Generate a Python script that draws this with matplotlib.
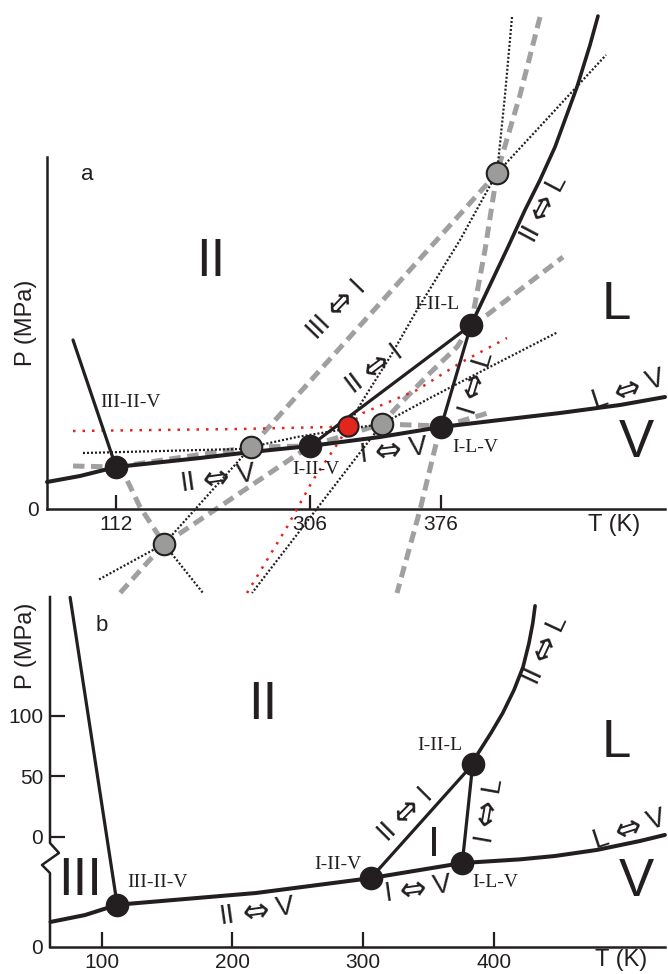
import math
import matplotlib
matplotlib.use("Agg")
import matplotlib.pyplot as plt
from matplotlib import font_manager, transforms

names = {f.name for f in font_manager.fontManager.ttflist}
narrow = 'Liberation Sans Narrow' if 'Liberation Sans Narrow' in names else 'Liberation Sans'
SANS = ['Liberation Sans', 'DejaVu Sans']
NARROW = [narrow, 'DejaVu Sans']
SERIF = ['Liberation Serif', 'DejaVu Serif']

INK = '#231f20'
GREY = '#a0a0a0'
RED = '#e2261c'

# ---------------- panel a : schematic, no pressure scale (arbitrary units from axis corner)
a_vap_x = [0, 33, 69, 153, 204, 263, 333, 394, 453, 513, 573, 618]
a_vap_y = [27, 33, 42, 51, 57, 63, 72, 82, 89, 96, 104, 112]
a_III_II_x = [26, 69]
a_III_II_y = [169, 42]
a_I_II_x = [263, 424]
a_I_II_y = [63, 184]
a_I_L_x = [394, 424]
a_I_L_y = [82, 184]
a_II_L_x = [424, 443, 461, 478, 493, 508, 530, 543, 551]
a_II_L_y = [184, 224, 262, 299, 329, 362, 422, 464, 493]

a_trip_x = [69, 263, 394, 424]
a_trip_y = [42, 63, 82, 184]
a_meta_x = [450, 204, 117, 335]
a_meta_y = [336, 62, -35, 85]
a_red_x = [301]
a_red_y = [83]

a_xticks = [69, 263, 394]
a_xticklabels = ['112', '306', '376']

# metastable extensions, grey dashed
a_grey = [
    ([26, 69], [43, 42]),
    ([69, 204], [42, 62]),
    ([204, 263], [62, 63]),
    ([263, 335], [63, 85]),
    ([335, 394], [85, 83]),
    ([394, 441], [82, 96]),
    ([69, 80, 93, 110, 117], [42, 29, 2, -24, -35]),
    ([117, 263], [-35, 63]),
    ([424, 410, 383, 350, 335], [184, 162, 136, 102, 85]),
    ([424, 440, 516], [184, 194, 252]),
    ([204, 450], [62, 336]),
    ([117, 73], [-35, -84]),
    ([493, 473, 450, 438, 424], [492, 414, 336, 259, 184]),
    ([394, 390, 373, 350], [82, 69, -1, -84]),
]
# black dotted
a_dot = [
    ([36, 193, 204, 250, 293, 335, 383, 433, 511], [56, 60, 62, 72, 79, 85, 111, 137, 177]),
    ([465, 458, 450, 413, 370, 343, 316, 301], [492, 414, 336, 269, 199, 152, 109, 83]),
    ([335, 205], [85, -84]),
    ([450, 559], [336, 454]),
    ([204, 117], [62, -35]),
    ([117, 51], [-35, -71]),
    ([117, 156], [-35, -84]),
]
# red dotted
a_redl = [
    ([26, 193, 283, 301, 316, 370, 413, 460], [78, 80, 82, 83, 96, 119, 146, 171]),
    ([200, 240, 266, 293, 301], [-84, -18, 29, 69, 83]),
]

a_trip_lab = [('III-II-V', 84, 106), ('I-II-V', 269, 39), ('I-L-V', 428, 61), ('I-II-L', 390, 204)]
a_trans = [('II ⇔ V', 169, 30, 8), ('I ⇔ V', 341, 57, 7), ('II ⇔ I', 330, 143, 37),
           ('III ⇔ I', 294, 206, 46), ('I ⇔ L', 427, 124, 73), ('II ⇔ L', 496, 302, 62),
           ('L ⇔ V', 580, 119, 18)]
a_phase = [('II', 164, 247, 38), ('L', 569, 204, 38), ('V', 589, 66, 38)]

# ---------------- panel b : T in K, P in MPa above the break, compressed vapour region below
b_vap_T = [61, 87.4, 104.2, 112, 218, 306, 376, 420, 447, 479, 512, 531]
b_vap_P = [-70.2, -64.5, -58.7, -56, -46.3, -34, -21.5, -18.5, -15.7, -10.7, -3.3, 1.7]
b_III_II_T = [76, 112]
b_III_II_P = [198, -56]
b_I_II_T = [306, 384]
b_I_II_P = [-34, 60]
b_I_L_T = [376, 384]
b_I_L_P = [-21.5, 60]
b_II_L_T = [384, 388, 398, 407, 415.6, 422.5, 427, 430, 431.7]
b_II_L_P = [60, 69, 86, 102.5, 121.5, 140.5, 160, 177, 191]
b_trip_T = [112, 306, 376, 384]
b_trip_P = [-56, -34, -21.5, 60]

b_xticks = [100, 200, 300, 400]
b_yticks = [-90.9, 0, 50, 100]
b_yticklabels = ['0', '0', '50', '100']

b_trip_lab = [('III-II-V', 120, -38, 'left'), ('I-II-V', 281, -23, 'center'),
              ('I-L-V', 401, -38, 'center'), ('I-II-L', 359, 76, 'center')]
b_trans = [('II ⇔ V', 218, -62, 8), ('I ⇔ V', 338, -44, 8), ('II ⇔ I', 334, 21.5, 45),
           ('I ⇔ L', 395, 20, 80), ('II ⇔ L', 439, 156, 65), ('L ⇔ V', 503, 6, 18)]
b_phase = [('II', 223, 109, 38), ('L', 494, 78, 38), ('V', 509, -37, 38),
           ('I', 354, -7, 31), ('III', 83.5, -36, 38)]

fig = plt.figure(figsize=(6.68, 9.74), dpi=100)


def solid(ax, x, y, lw=2.3):
    ax.plot(x, y, color=INK, lw=lw, solid_capstyle='round', clip_on=False, zorder=4)


def dots(ax, xs, ys, face, size=15.5):
    ax.plot(xs, ys, 'o', ms=size, mfc=face, mec=INK, mew=1.5, clip_on=False, zorder=6)


def trans_label(ax, s, x, y, r, gap=15, fs=20):
    left, right = s.split(' ⇔ ')
    c, sn = math.cos(math.radians(r)), math.sin(math.radians(r))
    ax.text(x, y, '⇔', family=['DejaVu Sans'], fontsize=fs + 3, rotation=r,
            rotation_mode='anchor', ha='center', va='center', color=INK, zorder=7)
    for part, sign, ha in [(left, -1, 'right'), (right, 1, 'left')]:
        off = transforms.ScaledTranslation(sign * gap * c / 72, sign * gap * sn / 72,
                                           fig.dpi_scale_trans)
        ax.text(x, y, part, transform=ax.transData + off, family=NARROW, fontsize=fs,
                rotation=r, rotation_mode='anchor', ha=ha, va='center', color=INK, zorder=7)


def labels(ax, trip, trans, phase):
    for t in trip:
        ha = t[3] if len(t) > 3 else 'center'
        ax.text(t[1], t[2], t[0], family=SERIF, fontsize=14, ha=ha, va='center',
                color=INK, zorder=7)
    for s, x, y, r in trans:
        trans_label(ax, s, x, y, r)
    for s, x, y, fs in phase:
        fam = SANS if set(s) == {'I'} else NARROW
        ax.text(x, y, s, family=fam, fontsize=fs, ha='center', va='center',
                color=INK, zorder=7)


# ---- panel a
ax = fig.add_axes([47 / 668, 1 - 509 / 974, 618 / 668, 352 / 974])
ax.set_xlim(0, 618)
ax.set_ylim(0, 352)
ax.patch.set_alpha(0)
for s in ['top', 'right']:
    ax.spines[s].set_visible(False)
for s in ['left', 'bottom']:
    ax.spines[s].set_linewidth(1.8)
    ax.spines[s].set_color(INK)
ax.set_xticks(a_xticks, a_xticklabels)
ax.set_yticks([0], ['0'])
ax.tick_params(axis='x', direction='in', length=10, width=1.6, color=INK, pad=4)
ax.tick_params(axis='y', length=0, pad=6)
for lab in ax.get_xticklabels() + ax.get_yticklabels():
    lab.set_family(SANS)
    lab.set_fontsize(15)
    lab.set_color(INK)

for x, y in a_grey:
    ax.plot(x, y, color=GREY, lw=3.6, dashes=(2.3, 1.3), dash_capstyle='butt',
            clip_on=False, zorder=2)
for x, y in a_dot:
    ax.plot(x, y, color=INK, lw=1.6, dashes=(0.9, 0.9), clip_on=False, zorder=3)
for x, y in a_redl:
    ax.plot(x, y, color=RED, lw=1.8, dashes=(1, 2.8), clip_on=False, zorder=3)

solid(ax, a_vap_x, a_vap_y, lw=2.9)
solid(ax, a_III_II_x, a_III_II_y)
solid(ax, a_I_II_x, a_I_II_y)
solid(ax, a_I_L_x, a_I_L_y)
solid(ax, a_II_L_x, a_II_L_y, lw=2.6)
dots(ax, a_trip_x, a_trip_y, INK)
dots(ax, a_meta_x, a_meta_y, '#9b9b99')
dots(ax, a_red_x, a_red_y, RED, size=14.5)
labels(ax, a_trip_lab, a_trans, a_phase)

ax.text(567, -16, 'T (K)', family=SANS, fontsize=17, ha='center', va='center', color=INK)
ax.text(40, 334, 'a', family=SANS, fontsize=16, ha='center', va='center', color=INK)
ax.text(-0.034, 0.53, 'P (MPa)', transform=ax.transAxes, family=SANS, fontsize=17,
        rotation=90, ha='center', va='center', color=INK)

# ---- panel b
bx = fig.add_axes([50 / 668, 1 - 947 / 974, 615 / 668, 350 / 974])
bx.set_xlim(60.6, 531.1)
bx.set_ylim(-90.9, 198.3)
bx.patch.set_alpha(0)
for s in ['top', 'right', 'left']:
    bx.spines[s].set_visible(False)
bx.spines['bottom'].set_linewidth(1.8)
bx.spines['bottom'].set_color(INK)
bx.set_xticks(b_xticks)
bx.set_yticks(b_yticks, b_yticklabels)
bx.tick_params(axis='x', direction='in', length=11, width=1.6, color=INK, pad=4)
bx.tick_params(axis='y', direction='in', length=11, width=1.6, color=INK, pad=5)
bx.yaxis.get_major_ticks()[0].tick1line.set_visible(False)
for lab in bx.get_xticklabels() + bx.get_yticklabels():
    lab.set_family(SANS)
    lab.set_fontsize(15)
    lab.set_color(INK)

# left axis with a break mark
yt = bx.get_yaxis_transform()
bx.plot([0, 0, 0.0146, -0.013, 0, 0], [198.3, -5, -13.2, -23.1, -29.8, -90.9],
        color=INK, lw=1.8, transform=yt, clip_on=False, zorder=4)

solid(bx, b_vap_T, b_vap_P, lw=2.9)
solid(bx, b_III_II_T, b_III_II_P)
solid(bx, b_I_II_T, b_I_II_P)
solid(bx, b_I_L_T, b_I_L_P)
solid(bx, b_II_L_T, b_II_L_P, lw=2.6)
dots(bx, b_trip_T, b_trip_P, INK)
labels(bx, b_trip_lab, b_trans, b_phase)

bx.text(497.6, -101.6, 'T (K)', family=SANS, fontsize=17, ha='center', va='center', color=INK)
bx.text(100.4, 175, 'b', family=SANS, fontsize=16, ha='center', va='center', color=INK)
bx.text(-0.039, 0.86, 'P (MPa)', transform=bx.transAxes, family=SANS, fontsize=17,
        rotation=90, ha='center', va='center', color=INK)

fig.savefig('out.png', dpi=100)
